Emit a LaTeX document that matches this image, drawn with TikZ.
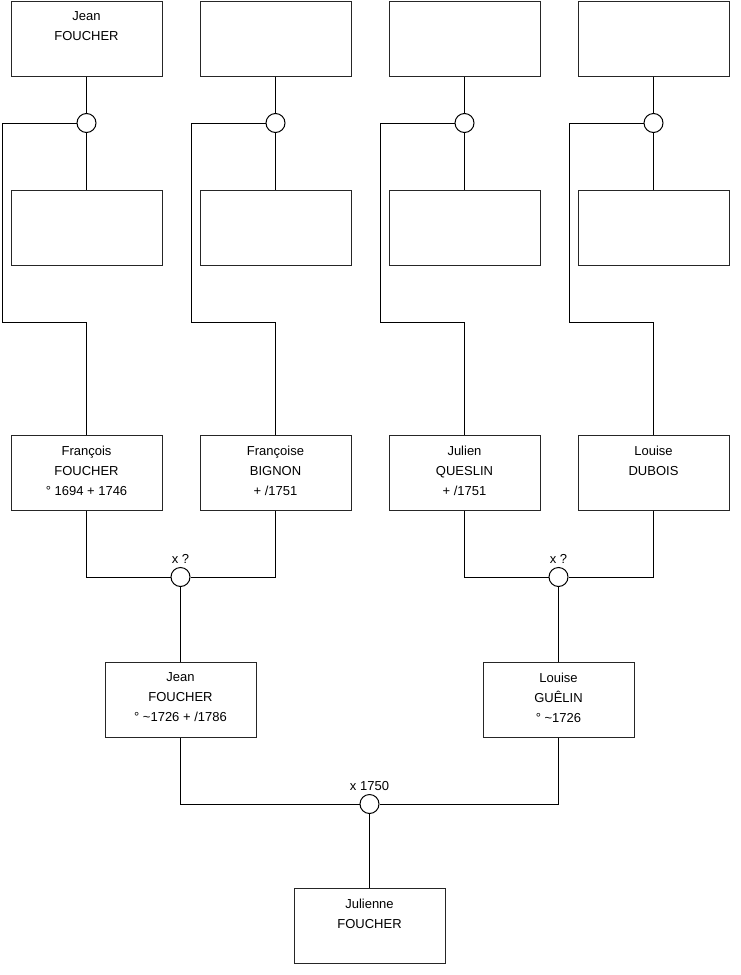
\documentclass[tikz,border=0pt]{standalone}
\usepackage{fontspec}
\setmainfont{Liberation Sans}
\begin{document}
\begin{tikzpicture}[x=1pt,y=-1pt,
  line width=1pt,
  person/.style={draw=black!85, minimum width=151pt, minimum height=75pt, inner sep=0pt, fill=white},
  ptext/.style={anchor=north, align=center, inner sep=0pt, font=\fontsize{13}{20}\selectfont},
  union/.style={circle, draw, fill=white, minimum size=19pt, inner sep=0pt},
  tag/.style={font=\fontsize{13}{16}\selectfont, inner sep=0pt}]
\useasboundingbox (0,0) rectangle (740,975);

% top row
\node[person] (a1) at (86.5,38.5) {};
\node[person] (a2) at (275.5,38.5) {};
\node[person] (a3) at (464.5,38.5) {};
\node[person] (a4) at (653.5,38.5) {};
\node[ptext] (a1t) at ([yshift=-11pt]a1.north) {Jean\\FOUCHER};

% unions row 1
\node[union] (u1) at (86.5,123) {};
\node[union] (u2) at (275.5,123) {};
\node[union] (u3) at (464.5,123) {};
\node[union] (u4) at (653.5,123) {};

% second row
\node[person] (b1) at (86.5,227.5) {};
\node[person] (b2) at (275.5,227.5) {};
\node[person] (b3) at (464.5,227.5) {};
\node[person] (b4) at (653.5,227.5) {};

% third row
\node[person] (c1) at (86.5,472.5) {};
\node[person] (c2) at (275.5,472.5) {};
\node[person] (c3) at (464.5,472.5) {};
\node[person] (c4) at (653.5,472.5) {};
\node[ptext] (c1t) at ([yshift=-11pt]c1.north) {François\\FOUCHER\\° 1694 + 1746};
\node[ptext] (c2t) at ([yshift=-11pt]c2.north) {Françoise\\BIGNON\\+ /1751};
\node[ptext] (c3t) at ([yshift=-11pt]c3.north) {Julien\\QUESLIN\\+ /1751};
\node[ptext] (c4t) at ([yshift=-11pt]c4.north) {Louise\\DUBOIS};

% side coordinates
\coordinate (s1) at (2,322);
\coordinate (s2) at (191,322);
\coordinate (s3) at (380,322);
\coordinate (s4) at (569,322);

% unions row 3
\node[union] (m1) at (180.5,577) {};
\node[union] (m2) at (558.5,577) {};
\node[tag, anchor=base] (m1l) at (180.5,563) {x ?};
\node[tag, anchor=base] (m2l) at (558.5,563) {x ?};

% fourth row
\node[person] (d1) at (180.5,699.5) {};
\node[person] (d2) at (558.5,699.5) {};
\node[ptext] (d1t) at ([yshift=-11pt]d1.north) {Jean\\FOUCHER\\° \textasciitilde1726 + /1786};
\node[ptext] (d2t) at ([yshift=-11pt]d2.north) {Louise\\GUÊLIN\\° \textasciitilde1726};

\node[union] (m3) at (369.5,804) {};
\node[tag, anchor=base] (m3l) at (369.5,790) {x 1750};

% bottom
\node[person] (e1) at (369.5,925.5) {};
\node[ptext] (e1t) at ([yshift=-11pt]e1.north) {Julienne\\FOUCHER};

% connectors top
\foreach \i/\s in {1/s1,2/s2,3/s3,4/s4}{
  \draw (a\i.south) -- (u\i.north);
  \draw (u\i.south) -- (b\i.north);
  \draw (u\i.west) -| (\s) -| (c\i.north);
}

% connectors lower
\draw (c1.south) |- (m1.west);
\draw (c2.south) |- (m1.east);
\draw (m1.south) -- (d1.north);
\draw (c3.south) |- (m2.west);
\draw (c4.south) |- (m2.east);
\draw (m2.south) -- (d2.north);
\draw (d1.south) |- (m3.west);
\draw (d2.south) |- (m3.east);
\draw (m3.south) -- (e1.north);
\end{tikzpicture}
\end{document}
